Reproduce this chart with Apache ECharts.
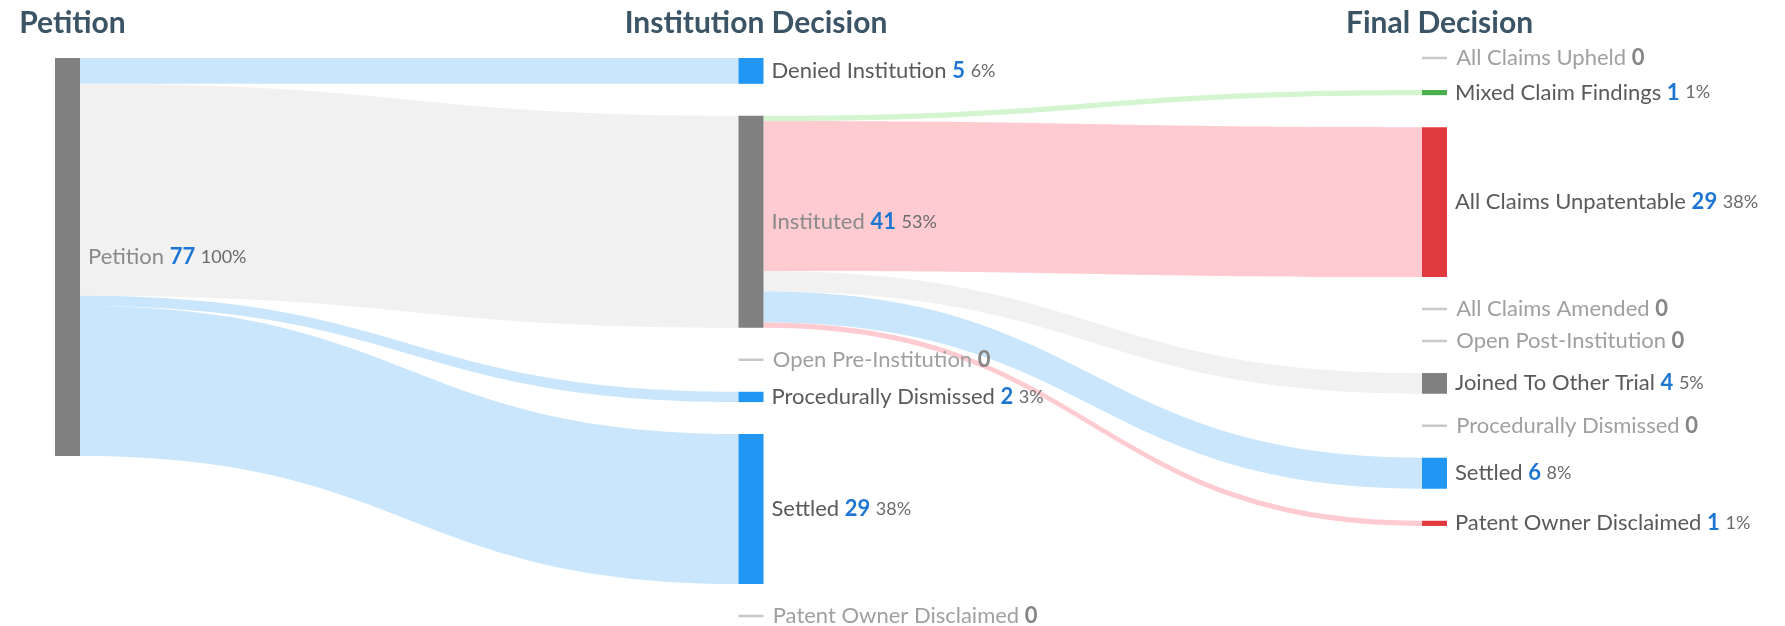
<!DOCTYPE html>
<html>
<head>
<meta charset="utf-8">
<title>Petition outcomes</title>
<script src="https://cdn.jsdelivr.net/npm/echarts@6.0.0/dist/echarts.min.js"></script>
<style>
html, body { margin: 0; padding: 0; background: #fff; }
#main { width: 1785px; height: 626px; }
</style>
</head>
<body>
<div id="main"></div>
<script>
// columns
var stageTitles = ['Petition', 'Institution Decision', 'Final Decision'];

// nodes (order inside each column = top to bottom)
var nodeNames = [
	'Petition',
	'Denied Institution', 'Instituted', 'Open Pre-Institution', 'Procedurally Dismissed', 'Settled', 'Patent Owner Disclaimed',
	'All Claims Upheld', 'Mixed Claim Findings', 'All Claims Unpatentable', 'All Claims Amended',
	'Open Post-Institution', 'Joined To Other Trial', 'Procedurally Dismissed', 'Settled', 'Patent Owner Disclaimed'
];
var nodeStage  = [0, 1, 1, 1, 1, 1, 1, 2, 2, 2, 2, 2, 2, 2, 2, 2];
var nodeCounts = [77, 5, 41, 0, 2, 29, 0, 0, 1, 29, 0, 0, 4, 0, 6, 1];

// flows between nodes (by node index)
var linkSource = [0, 0, 0, 0, 2, 2, 2, 2, 2];
var linkTarget = [1, 2, 4, 5, 8, 9, 12, 14, 15];
var linkCounts = [5, 41, 2, 29, 1, 29, 4, 6, 1];

// styles
var palette = {
	gray:  { node: '#808080', link: '#f1f1f1' },
	blue:  { node: '#2196f3', link: '#cae6fc' },
	green: { node: '#4caf50', link: '#d3f5d0' },
	red:   { node: '#e0393e', link: '#fdcbd0' },
	none:  { node: '#c8c8c8', link: '#eeeeee' }
};
var nodeTone = ['gray', 'blue', 'gray', 'none', 'blue', 'blue', 'none',
	'none', 'green', 'red', 'none', 'none', 'gray', 'none', 'blue', 'red'];

var total = nodeCounts[0];
var chartLeft = 55, chartWidth = 1392, nodeW = 25;
var fontFamily = 'Lato, "Noto Sans", sans-serif';

var chart = echarts.init(document.getElementById('main'));

var nodes = nodeNames.map(function (name, i) {
	var empty = nodeCounts[i] === 0;
	return {
		id: 'n' + i,
		name: name,
		value: nodeCounts[i],
		depth: nodeStage[i],
		itemStyle: empty ? {
			color: palette.none.node,
			borderColor: palette.none.node,
			borderWidth: 2.5
		} : {
			color: palette[nodeTone[i]].node,
			borderWidth: 0
		}
	};
});

var links = linkCounts.map(function (v, i) {
	return {
		source: 'n' + linkSource[i],
		target: 'n' + linkTarget[i],
		value: v,
		lineStyle: {
			color: palette[nodeTone[linkTarget[i]]].link,
			opacity: 1,
			curveness: 0.5
		}
	};
});

// column headers centred on the node columns
var titles = stageTitles.map(function (t, d) {
	return {
		text: t,
		left: chartLeft + nodeW / 2 + d * (chartWidth - nodeW) / 2,
		top: 3,
		textAlign: 'center',
		textStyle: {
			fontFamily: fontFamily,
			fontSize: 30,
			fontWeight: 'bold',
			color: '#3b5466'
		}
	};
});

chart.setOption({
	animation: false,
	title: titles,
	series: [{
		type: 'sankey',
		left: chartLeft,
		width: chartWidth,
		top: 58,
		bottom: 10,
		nodeWidth: nodeW,
		nodeGap: 32,
		nodeAlign: 'left',
		layoutIterations: 0,
		draggable: false,
		emphasis: { disabled: true },
		data: nodes,
		links: links,
		label: {
			show: true,
			position: 'right',
			distance: 8,
			fontFamily: fontFamily,
			fontSize: 22,
			formatter: function (p) {
				var i = p.dataIndex;
				var c = nodeCounts[i];
				if (c === 0) {
					return '{z|' + nodeNames[i] + '} {zv|0}';
				}
				var cls = nodeTone[i] === 'gray' && i !== 12 ? 'g' : 'n';
				return '{' + cls + '|' + nodeNames[i] + '} {v|' + c + '} {p|' + Math.round(c / total * 100) + '%}';
			},
			rich: {
				n:  { fontFamily: fontFamily, fontSize: 22, color: '#5a5a5a' },
				g:  { fontFamily: fontFamily, fontSize: 22, color: '#8a8a8a' },
				z:  { fontFamily: fontFamily, fontSize: 22, color: '#a0a0a0' },
				zv: { fontFamily: fontFamily, fontSize: 22, color: '#858585', fontWeight: 'bold' },
				v:  { fontFamily: fontFamily, fontSize: 22, color: '#1e76d3', fontWeight: 'bold' },
				p:  { fontFamily: fontFamily, fontSize: 18, color: '#6a6a6a' }
			}
		}
	}]
});
</script>
</body>
</html>
